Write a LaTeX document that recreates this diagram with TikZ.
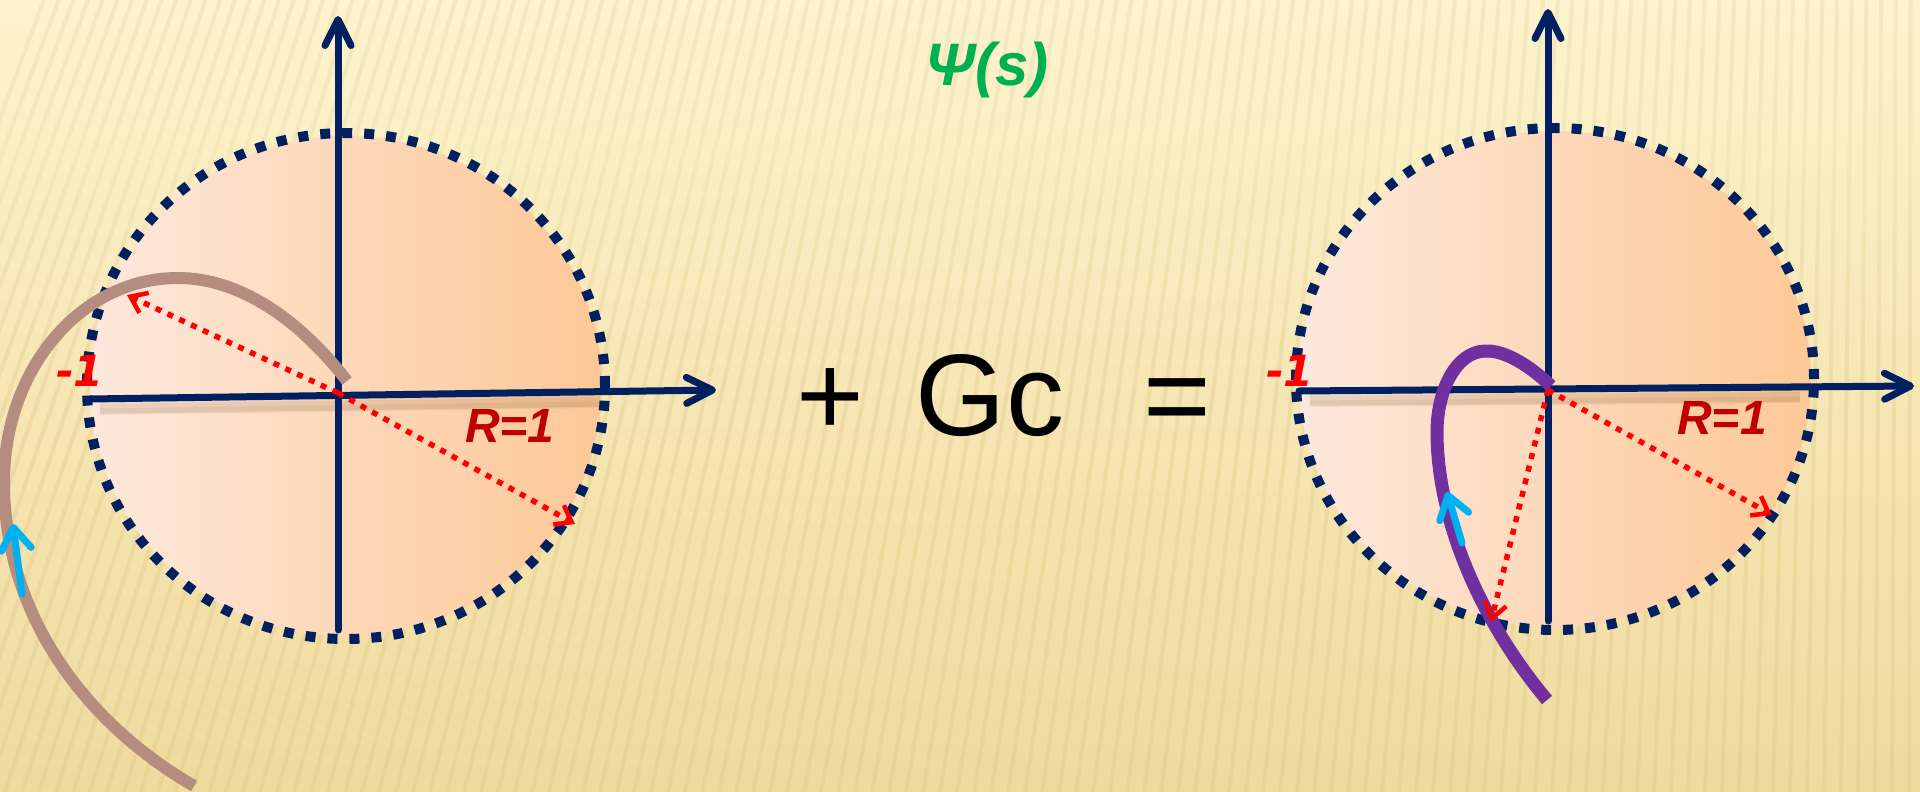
\documentclass[tikz,border=0pt]{standalone}
\usepackage{fontspec}
\setmainfont{Liberation Sans}
\newfontfamily\djv{DejaVu Sans}
\usetikzlibrary{arrows.meta,calc,fadings}
\definecolor{navy}{HTML}{002060}
\definecolor{bgtop}{HTML}{FDF3CC}
\definecolor{bgmid}{HTML}{F9EBBC}
\definecolor{bgbot}{HTML}{F0DA9E}
\definecolor{stripe}{HTML}{D9BF78}
\definecolor{discL}{HTML}{FDE8DC}
\definecolor{discR}{HTML}{FDC896}
\definecolor{tan}{HTML}{B48C80}
\definecolor{purp}{HTML}{7030A0}
\definecolor{cyanarr}{HTML}{00B0F0}
\definecolor{darkred}{HTML}{C00000}
\definecolor{psigreen}{HTML}{00B050}
\tikzset{
  axis/.style={navy, line width=7pt, line cap=round, line join=round,
    -{Straight Barb[length=26pt,width=26pt,line cap=round,line join=round]}},
  axisshadow/.style={line width=10pt, color=brown!60!black, opacity=0.07},
  disc/.style={left color=discL, right color=discR, draw=none},
  dotcirc/.style={navy, line width=10pt, dash pattern=on 10pt off 12pt},
  radius arrow/.style={red, line width=5.5pt, dash pattern=on 6pt off 7pt,
    -{Straight Barb[length=15pt,width=22pt,line width=4.5pt]}},
  curveL/.style={tan, line width=12pt},
  curveR/.style={purp, line width=13pt},
  dirarrow/.style={cyanarr, line width=7pt, line cap=round,
    -{Straight Barb[length=22pt,width=30pt,line cap=round,line join=round]}},
  rlabel/.style={darkred, font=\fontsize{48}{52}\selectfont\bfseries\itshape, anchor=base, inner sep=0pt},
  mlabel/.style={red, font=\djv\fontsize{43}{47}\selectfont\bfseries\itshape, anchor=base, inner sep=0pt},
  bigop/.style={black, font=\fontsize{116}{120}\selectfont, anchor=base, inner sep=0pt},
}
\begin{document}
\begin{tikzpicture}[x=1pt,y=-1pt]
\useasboundingbox (0,0) rectangle (1920,792);
% background
\shade[top color=bgtop, middle color=bgmid, bottom color=bgbot] (0,0) rectangle (1920,792);
\begin{scope}
\clip (0,0) rectangle (1920,792);
\foreach \i in {0,...,130} {
  \pgfmathsetmacro\xb{\i*17-250}
  \pgfmathsetmacro\xt{\xb+260*(1-\xb/1920)}
  \draw[stripe, line width=4pt, opacity=0.25] (\xb,792) -- (\xt,0);
}
\foreach \k in {1,...,10}
  \fill[bgtop, opacity=0.09] (0,0) rectangle (1920,\k*33);
\end{scope}

% ---------- left panel ----------
\coordinate (L0) at (338,393);
\coordinate (LvB) at (338,630);
\coordinate (LvT) at (338,16);
\coordinate (LhL) at (90,399);
\coordinate (LhR) at (716,390);
\coordinate (LrA) at (127,295);
\coordinate (LrB) at (575,524);
\coordinate (LcS) at (347,381);
\coordinate (LcP) at (178,278);
\coordinate (LcM) at (4,482);
\coordinate (LcE) at (194,786);
\coordinate (LaT) at (22,594);
\coordinate (LaH) at (13,524);

\shade[disc] (346,386) ellipse [x radius=256pt, y radius=250pt];
\foreach \d/\w in {8/16,10/10,12/5}
  \draw[axisshadow, line width=\w pt] (100,399+\d) -- (600,392+\d);
\draw[dotcirc] (346,386) ellipse [x radius=259pt, y radius=253pt];
\draw[axis] (LvB) -- (LvT);
\draw[axis] (LhL) -- (LhR);
\draw[curveL] (LcS) .. controls (300,320) and (240,278) .. (LcP)
  .. controls (80,278) and (4,370) .. (LcM)
  .. controls (4,610) and (80,720) .. (LcE);
\draw[radius arrow] (L0) -- (LrA);
\draw[radius arrow] (L0) -- (LrB);
\draw[dirarrow] (LaT) -- (LaH);
\node[rlabel] (LR) at (510,442) {R=1};
\node[mlabel] (Lm1) at (80,386) {-1};

% ---------- centre ----------
\node[font=\fontsize{60}{64}\selectfont\bfseries\itshape, psigreen, anchor=base, inner sep=0pt] (psi) at (987,85) {Ψ(s)};
\node[bigop] (plus) at (830,435) {+};
\node[bigop] (gc) at (990,435) {Gc};
\node[bigop] (eq) at (1177,435) {=};

% ---------- right panel ----------
\coordinate (R0) at (1548,390);
\coordinate (RvB) at (1548,621);
\coordinate (RvT) at (1548,9);
\coordinate (RhL) at (1299,391);
\coordinate (RhR) at (1914,386);
\coordinate (RrA) at (1772,515);
\coordinate (RrB) at (1491,622);
\coordinate (RcS) at (1551,386);
\coordinate (RcP) at (1485,351);
\coordinate (RcM) at (1437,432);
\coordinate (RcE) at (1547,700);
\coordinate (RaT) at (1462,543);
\coordinate (RaH) at (1447,492);

\shade[disc] (1555,379) ellipse [x radius=256pt, y radius=248pt];
\foreach \d/\w in {8/16,10/10,12/5}
  \draw[axisshadow, line width=\w pt] (1310,391+\d) -- (1800,387+\d);
\draw[dotcirc] (1555,379) ellipse [x radius=259pt, y radius=251pt];
\draw[axis] (RvB) -- (RvT);
\draw[axis] (RhL) -- (RhR);
\draw[curveR] (RcS) .. controls (1530,366) and (1505,350) .. (RcP)
  .. controls (1455,352) and (1437,392) .. (RcM)
  .. controls (1437,520) and (1480,620) .. (RcE);
\draw[radius arrow] (R0) -- (RrA);
\draw[radius arrow] (R0) -- (RrB);
\draw[dirarrow] (RaT) -- (RaH);
\node[rlabel] (RR) at (1722,434) {R=1};
\node[mlabel] (Rm1) at (1290,386) {-1};
\end{tikzpicture}
\end{document}
